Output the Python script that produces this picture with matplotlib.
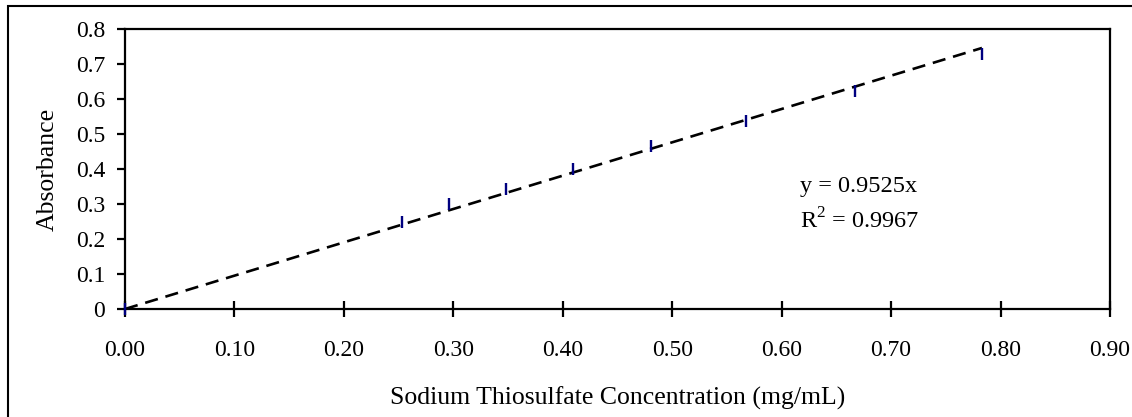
import matplotlib
matplotlib.use("Agg")
import matplotlib.pyplot as plt
from matplotlib.patches import Rectangle
import numpy as np

# Calibration data: sodium thiosulfate concentration vs absorbance
concentration = [0.0, 0.253, 0.296, 0.348, 0.409, 0.481, 0.567, 0.667, 0.783]
absorbance = [0.0, 0.25, 0.30, 0.343, 0.40, 0.465, 0.537, 0.623, 0.73]

# Linear fit through the origin
slope = 0.9525
r_squared = 0.9967

x_ticks = [0.0, 0.1, 0.2, 0.3, 0.4, 0.5, 0.6, 0.7, 0.8, 0.9]
y_ticks = [0.0, 0.1, 0.2, 0.3, 0.4, 0.5, 0.6, 0.7, 0.8]

plt.rcParams["font.family"] = ["Liberation Serif", "DejaVu Serif"]
plt.rcParams["mathtext.fontset"] = "custom"
plt.rcParams["mathtext.rm"] = "Liberation Serif"

W, H = 1132, 417
fig = plt.figure(figsize=(W / 100, H / 100), dpi=100)
fig.patch.set_facecolor("white")

# Chart-area border
fig.patches.append(Rectangle((7.5 / W, -0.2), 1.2, 1 - 6.5 / H + 0.2,
                             transform=fig.transFigure, fill=False,
                             edgecolor="black", linewidth=1.5))

ax = fig.add_axes([125 / W, 1 - 309 / H, (1110 - 125) / W, (309 - 29) / H])

# Trend line
fit_x = np.array([0.0, max(concentration)])
ax.plot(fit_x, slope * fit_x, color="black", linestyle=(0, (5.0, 3.0)),
        linewidth=1.9, zorder=2)

# Measured points
ax.plot(concentration, absorbance, linestyle="none", marker="|",
        markersize=9, markeredgewidth=1.7, color="#000080", zorder=3,
        clip_on=False)

ax.set_xlim(0, 0.9)
ax.set_ylim(0, 0.8)
ax.set_xticks(x_ticks)
ax.set_xticklabels([f"{v:.2f}" for v in x_ticks])
ax.set_yticks(y_ticks)
ax.set_yticklabels([f"{v:g}" for v in y_ticks])

for s in ax.spines.values():
    s.set_linewidth(1.6)

ax.tick_params(axis="x", direction="inout", length=11, width=1.6,
               labelsize=17, pad=17)
ax.tick_params(axis="y", direction="out", length=5.8, width=1.6,
               labelsize=17, pad=8.5)

ax.set_xlabel("Sodium Thiosulfate Concentration (mg/mL)", fontsize=18.5,
              labelpad=18.5)
ax.set_ylabel("Absorbance", fontsize=18.5, labelpad=12)

ax.text(0.617, 0.335, f"y = {slope}x", fontsize=17.5, va="baseline",
        ha="left")
ax.text(0.617, 0.231, f"R$^2$ = {r_squared}", fontsize=17.5, va="baseline",
        ha="left")

fig.savefig("out.png", dpi=100, facecolor="white")
